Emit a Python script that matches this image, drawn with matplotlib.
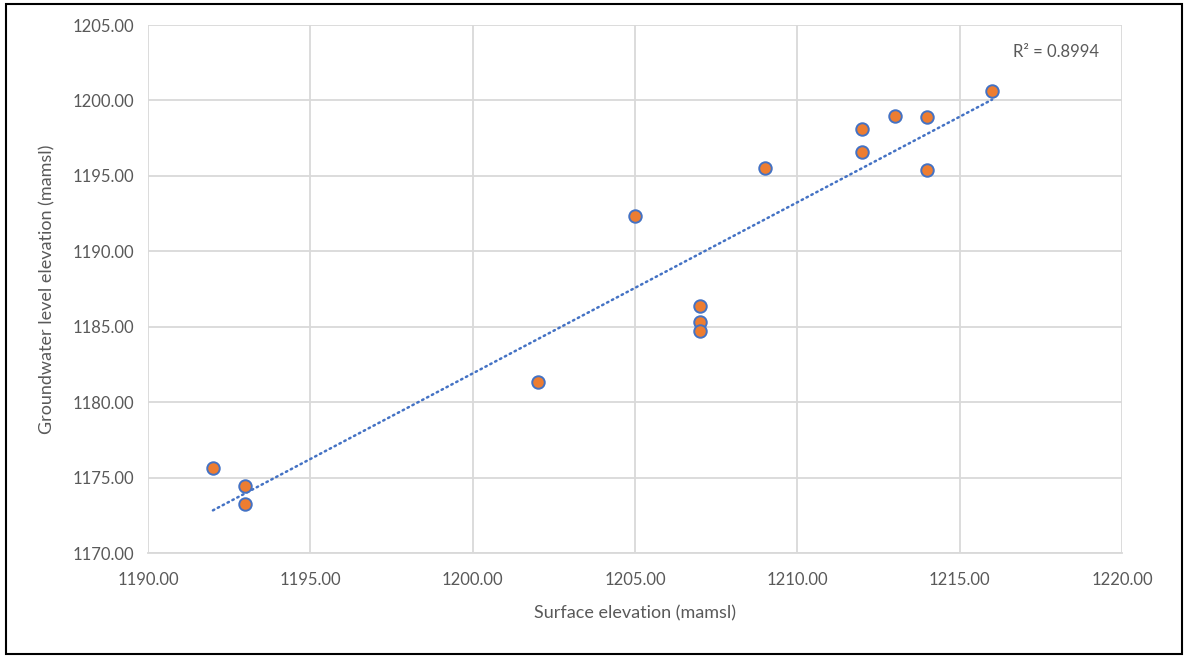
import numpy as np
import matplotlib
matplotlib.use("Agg")
import matplotlib.pyplot as plt
from matplotlib.patches import Rectangle

# surface elevation vs groundwater level elevation (mamsl)
surface = [1192.0, 1193.0, 1193.0, 1202.0, 1205.0, 1207.0, 1207.0, 1207.0,
           1209.0, 1212.0, 1212.0, 1213.0, 1214.0, 1214.0, 1216.0]
groundwater = [1175.65, 1174.45, 1173.25, 1181.35, 1192.35, 1186.4, 1185.3, 1184.7,
               1195.5, 1198.1, 1196.55, 1198.95, 1198.9, 1195.4, 1200.6]
r2_label = "R² = 0.8994"

x_ticks = [1190, 1195, 1200, 1205, 1210, 1215, 1220]
y_ticks = [1170, 1175, 1180, 1185, 1190, 1195, 1200, 1205]

text_col = "#595959"
plt.rcParams['font.family'] = ['Lato', 'DejaVu Sans']

fig = plt.figure(figsize=(11.86, 6.57), dpi=100)
ax = fig.add_axes([148 / 1186, 1 - 553 / 657, (1122 - 148) / 1186, (553 - 25) / 657])

# linear trend line
x = np.array(surface)
y = np.array(groundwater)
slope, icpt = np.polyfit(x, y, 1)
xl = np.array([x.min(), x.max()])
ax.plot(xl, slope * xl + icpt, color="#4472C4", lw=1.8, linestyle=(0, (0.6, 1.6)),
        dash_capstyle="round", zorder=3)

ax.plot(x, y, "o", color="#ED7D31", markeredgecolor="#4472C4", markeredgewidth=1.4,
        markersize=9, zorder=4)

ax.set_xlim(1190, 1220)
ax.set_ylim(1170, 1205)
ax.set_xticks(x_ticks)
ax.set_yticks(y_ticks)
ax.set_xticklabels([f"{v:.2f}" for v in x_ticks])
ax.set_yticklabels([f"{v:.2f}" for v in y_ticks])
ax.grid(True, color="#D9D9D9", lw=1.3)
ax.set_axisbelow(True)
for s in ["top", "right", "left"]:
    ax.spines[s].set_visible(False)
ax.spines["bottom"].set_color("#D9D9D9")
ax.spines["bottom"].set_linewidth(1.3)
ax.tick_params(length=0, labelsize=12, colors=text_col, pad=14)
ax.tick_params(axis="y", pad=10)

ax.set_xlabel("Surface elevation (mamsl)", fontsize=13, color=text_col, labelpad=12)
ax.set_ylabel("Groundwater level elevation (mamsl)", fontsize=13, color=text_col, labelpad=12)

ax.text(1216.65, 1203.2, r2_label, fontsize=12, color=text_col, va="center", ha="left")

fig.patches.append(Rectangle((6 / 1186, 3 / 657), 1176 / 1186, 650 / 657, transform=fig.transFigure,
                             fill=False, edgecolor="black", lw=1.5))

fig.savefig("out.png", dpi=100)
